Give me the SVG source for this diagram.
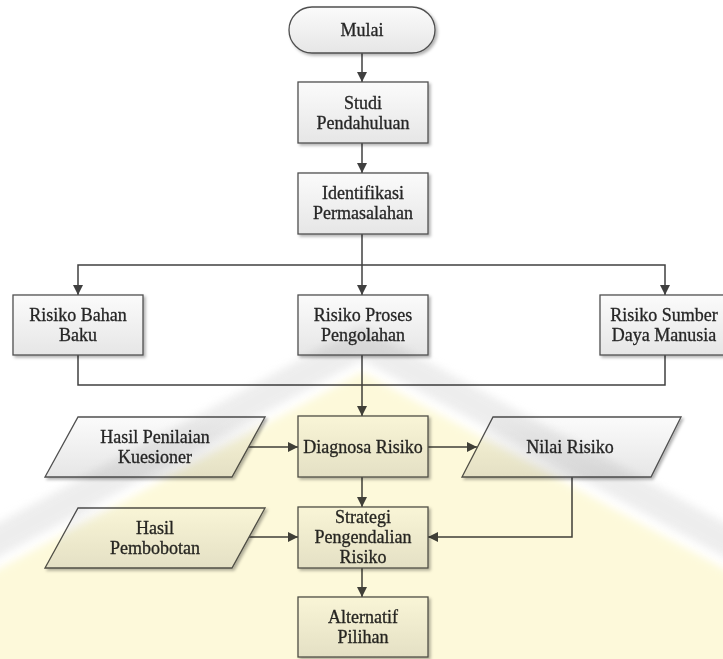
<svg xmlns="http://www.w3.org/2000/svg" width="723" height="659" viewBox="0 0 723 659">
<defs>
<linearGradient id="boxg" x1="0" y1="0" x2="0" y2="1">
<stop offset="0" stop-color="#fbfbfb"/>
<stop offset="1" stop-color="#e6e6e6"/>
</linearGradient>
<filter id="sh" x="-10%" y="-10%" width="130%" height="140%">
<feDropShadow dx="2" dy="2" stdDeviation="1.5" flood-color="#000" flood-opacity="0.3"/>
</filter>
<filter id="blur" x="-5%" y="-5%" width="110%" height="110%">
<feGaussianBlur stdDeviation="4"/>
</filter>
<marker id="ah" viewBox="0 0 10 10" refX="10" refY="5" markerWidth="10" markerHeight="10" markerUnits="userSpaceOnUse" orient="auto">
<path d="M0,0 L10,5 L0,10 Z" fill="#404040"/>
</marker>
<style>
.box{fill:url(#boxg);stroke:#505050;stroke-width:1.3;filter:url(#sh)}
.t{font-family:"Liberation Serif","Times New Roman",serif;font-size:18px;fill:#262626;stroke:#262626;stroke-width:0.3;text-anchor:middle}
.c{fill:none;stroke:#404040;stroke-width:1.5}
.ca{fill:none;stroke:#404040;stroke-width:1.5;marker-end:url(#ah)}
</style>
</defs>
<rect width="723" height="659" fill="#ffffff"/>

<g id="connectors">
<line class="ca" x1="362" y1="53" x2="362" y2="82"/>
<line class="ca" x1="362" y1="143" x2="362" y2="173"/>
<line class="ca" x1="362" y1="234" x2="362" y2="295"/>
<polyline class="ca" points="362,265 78,265 78,295"/>
<polyline class="ca" points="362,265 665,265 665,295"/>
<polyline class="c" points="78,355 78,385 665,385 665,355"/>
<line class="ca" x1="362" y1="355" x2="362" y2="416"/>
<line class="ca" x1="248" y1="447" x2="298" y2="447"/>
<line class="ca" x1="428" y1="447" x2="477" y2="447"/>
<line class="ca" x1="362" y1="477" x2="362" y2="507"/>
<line class="ca" x1="248" y1="537" x2="298" y2="537"/>
<polyline class="ca" points="572,477 572,537 428,537"/>
<line class="ca" x1="362" y1="568" x2="362" y2="597"/>
</g>

<g id="mulai">
<rect class="box" x="289" y="7" width="146" height="46" rx="23" ry="23"/>
<text class="t" x="362" y="36">Mulai</text>
</g>
<g id="studi">
<rect class="box" x="298" y="82" width="130" height="61"/>
<text class="t" x="363" y="109">Studi</text>
<text class="t" x="363" y="129">Pendahuluan</text>
</g>
<g id="identifikasi">
<rect class="box" x="298" y="173" width="130" height="61"/>
<text class="t" x="363" y="199">Identifikasi</text>
<text class="t" x="363" y="219">Permasalahan</text>
</g>
<g id="bahan">
<rect class="box" x="13" y="295" width="130" height="60"/>
<text class="t" x="78" y="321">Risiko Bahan</text>
<text class="t" x="78" y="341">Baku</text>
</g>
<g id="proses">
<rect class="box" x="298" y="295" width="130" height="60"/>
<text class="t" x="363" y="321">Risiko Proses</text>
<text class="t" x="363" y="341">Pengolahan</text>
</g>
<g id="sdm">
<rect class="box" x="600" y="295" width="130" height="60"/>
<text class="t" x="664" y="321">Risiko Sumber</text>
<text class="t" x="664" y="341">Daya Manusia</text>
</g>
<g id="kuesioner">
<polygon class="box" points="78,417 265,417 232,477 45,477"/>
<text class="t" x="155" y="443">Hasil Penilaian</text>
<text class="t" x="155" y="463">Kuesioner</text>
</g>
<g id="diagnosa">
<rect class="box" x="298" y="416" width="130" height="61"/>
<text class="t" x="363" y="453">Diagnosa Risiko</text>
</g>
<g id="nilai">
<polygon class="box" points="493,417 681,417 651,477 462,477"/>
<text class="t" x="570" y="453">Nilai Risiko</text>
</g>
<g id="pembobotan">
<polygon class="box" points="78,508 265,508 232,568 45,568"/>
<text class="t" x="155" y="534">Hasil</text>
<text class="t" x="155" y="554">Pembobotan</text>
</g>
<g id="strategi">
<rect class="box" x="298" y="507" width="130" height="61"/>
<text class="t" x="363" y="523">Strategi</text>
<text class="t" x="363" y="543">Pengendalian</text>
<text class="t" x="363" y="563">Risiko</text>
</g>
<g id="alternatif">
<rect class="box" x="298" y="597" width="130" height="60"/>
<text class="t" x="363" y="623">Alternatif</text>
<text class="t" x="363" y="643">Pilihan</text>
</g>

<g id="watermark" style="mix-blend-mode:multiply">
<polygon points="362,372 -40,590 -40,700 763,700 763,590" fill="#fdf9da" filter="url(#blur)"/>
<polygon points="362,326 -40,544 -40,578 362,360 763,578 763,544" fill="#e2e2e2" opacity="0.6" filter="url(#blur)"/>
</g>
</svg>
